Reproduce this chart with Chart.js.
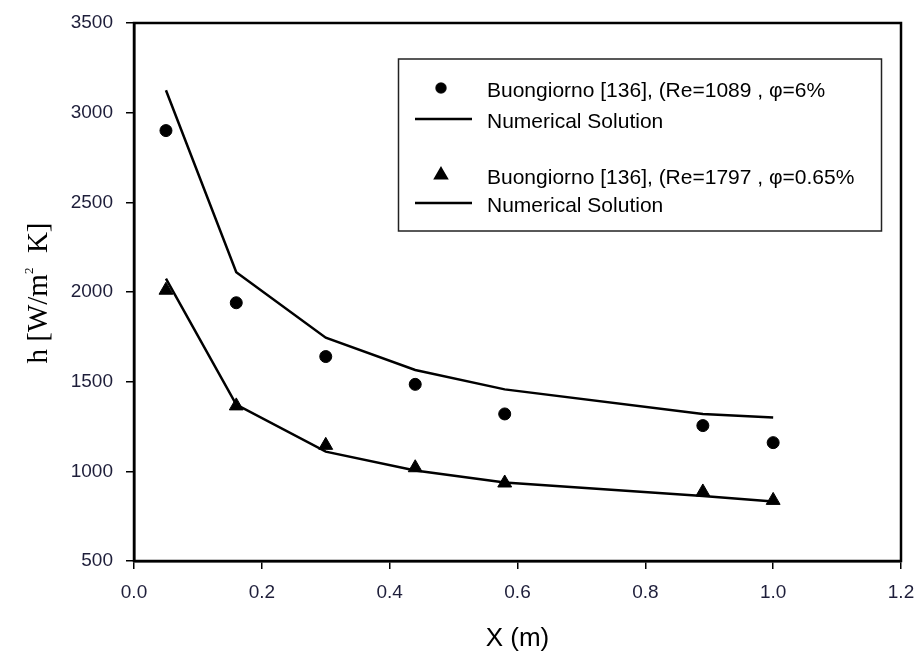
<!DOCTYPE html>
<html lang="en">

<head>
    <meta charset="UTF-8">
    <title>Heat transfer coefficient along X</title>
    <script src="https://cdn.jsdelivr.net/npm/chart.js"></script>
    <style>
        body {
            margin: 0;
            padding: 0;
            background-color: #ffffff;
        }

        #chart-container {
            width: 918px;
            height: 658px;
        }
    </style>
</head>

<body>
    <div id="chart-container">
        <canvas id="hChart"></canvas>
    </div>

    <script>
        // axial positions (m)
        const xPositions = [0.05, 0.16, 0.30, 0.44, 0.58, 0.89, 1.00];

        // Buongiorno [136], Re=1089, phi=6%
        const expRe1089 = [2900, 1940, 1640, 1485, 1320, 1255, 1160];
        const numRe1089 = [3125, 2110, 1745, 1565, 1457, 1320, 1300];

        // Buongiorno [136], Re=1797, phi=0.65%
        const expRe1797 = [2010, 1365, 1145, 1020, 935, 885, 838];
        const numRe1797 = [2075, 1372, 1110, 1005, 938, 862, 832];

        const xTicks = [0, 0.2, 0.4, 0.6, 0.8, 1.0, 1.2];
        const yTicks = [500, 1000, 1500, 2000, 2500, 3000, 3500];

        const legendLabels = [
            'Buongiorno [136], (Re=1089 , φ=6%',
            'Numerical Solution',
            'Buongiorno [136], (Re=1797 , φ=0.65%',
            'Numerical Solution'
        ];

        const toPoints = (ys) => xPositions.map((x, i) => ({ x: x, y: ys[i] }));

        const tickColor = '#1e1e3a';

        // box around the plot area (top and right edges)
        const framePlugin = {
            id: 'frame',
            afterDraw(chart) {
                const { ctx, chartArea: a } = chart;
                ctx.save();
                ctx.strokeStyle = '#000';
                ctx.lineWidth = 2.5;
                ctx.strokeRect(a.left, a.top, a.right - a.left, a.bottom - a.top);
                ctx.restore();
            }
        };

        // y axis title with superscript
        const yTitlePlugin = {
            id: 'yTitle',
            afterDraw(chart) {
                const { ctx, chartArea: a } = chart;
                const cy = (a.top + a.bottom) / 2;
                const big = '29px "Liberation Serif", serif';
                const small = '13px "Liberation Serif", serif';
                const p1 = 'h [W/m';
                const p3 = '  K]';
                ctx.save();
                ctx.translate(47, cy + 1);
                ctx.rotate(-Math.PI / 2);
                ctx.fillStyle = '#000';
                ctx.textBaseline = 'alphabetic';
                ctx.font = big;
                const w1 = ctx.measureText(p1).width;
                const w3 = ctx.measureText(p3).width;
                ctx.font = small;
                const w2 = ctx.measureText('2').width;
                let x = -(w1 + w2 + w3) / 2;
                ctx.font = big;
                ctx.fillText(p1, x, 0);
                x += w1;
                ctx.font = small;
                ctx.fillText('2', x, -14);
                x += w2;
                ctx.font = big;
                ctx.fillText(p3, x, 0);
                ctx.restore();
            }
        };

        // boxed legend drawn inside the plot
        const boxLegendPlugin = {
            id: 'boxLegend',
            afterDraw(chart) {
                const ctx = chart.ctx;
                const rows = [88, 119, 175, 203];
                ctx.save();
                ctx.strokeStyle = '#222';
                ctx.lineWidth = 1.5;
                ctx.strokeRect(398.5, 59, 483, 172);

                ctx.font = '21px "Liberation Sans", Arial, sans-serif';
                ctx.textBaseline = 'middle';
                ctx.fillStyle = '#000';

                chart.data.datasets.forEach((ds, i) => {
                    const y = rows[i];
                    if (ds.showLine) {
                        ctx.strokeStyle = '#000';
                        ctx.lineWidth = 2.5;
                        ctx.beginPath();
                        ctx.moveTo(415, y);
                        ctx.lineTo(472, y);
                        ctx.stroke();
                    } else {
                        Chart.helpers.drawPoint(ctx, {
                            pointStyle: ds.pointStyle,
                            radius: ds.pointStyle === 'triangle' ? 6.5 : 5,
                            borderWidth: 1
                        }, 441, y);
                        ctx.fill();
                    }
                    ctx.fillText(legendLabels[i], 487, y + 3);
                });
                ctx.restore();
            }
        };

        const ctx = document.getElementById('hChart').getContext('2d');

        const chart = new Chart(ctx, {
            type: 'scatter',
            data: {
                datasets: [
                    {
                        label: legendLabels[0],
                        data: toPoints(expRe1089),
                        pointStyle: 'circle',
                        pointRadius: 6,
                        backgroundColor: '#000',
                        borderColor: '#000',
                        showLine: false
                    },
                    {
                        label: legendLabels[1],
                        data: toPoints(numRe1089),
                        showLine: true,
                        pointRadius: 0,
                        borderColor: '#000',
                        borderWidth: 2.5,
                        tension: 0
                    },
                    {
                        label: legendLabels[2],
                        data: toPoints(expRe1797),
                        pointStyle: 'triangle',
                        pointRadius: 8,
                        backgroundColor: '#000',
                        borderColor: '#000',
                        showLine: false
                    },
                    {
                        label: legendLabels[3],
                        data: toPoints(numRe1797),
                        showLine: true,
                        pointRadius: 0,
                        borderColor: '#000',
                        borderWidth: 2.5,
                        tension: 0
                    }
                ]
            },
            options: {
                responsive: true,
                maintainAspectRatio: false,
                animation: false,
                layout: {
                    padding: { top: 23, right: 17, left: 0, bottom: 0 }
                },
                scales: {
                    x: {
                        type: 'linear',
                        min: 0,
                        max: 1.2,
                        afterFit: (s) => {
                            s.height = 97;
                            s.paddingLeft = 0;
                            s.paddingRight = 0;
                        },
                        afterBuildTicks: (s) => { s.ticks = xTicks.map(v => ({ value: v })); },
                        border: { display: true, color: '#000', width: 2.5 },
                        grid: {
                            drawOnChartArea: false,
                            drawTicks: true,
                            tickLength: 8,
                            color: '#000',
                            lineWidth: 1.5
                        },
                        ticks: {
                            padding: 12,
                            color: tickColor,
                            font: { family: '"Liberation Sans", Arial, sans-serif', size: 19 },
                            callback: (v) => Number(v).toFixed(1)
                        },
                        title: {
                            display: true,
                            text: 'X (m)',
                            color: '#000',
                            padding: { top: 10 },
                            font: { family: '"Liberation Sans", Arial, sans-serif', size: 26 }
                        }
                    },
                    y: {
                        type: 'linear',
                        min: 500,
                        max: 3500,
                        afterFit: (s) => {
                            s.width = 134;
                            s.paddingTop = 0;
                            s.paddingBottom = 0;
                        },
                        afterBuildTicks: (s) => { s.ticks = yTicks.map(v => ({ value: v })); },
                        border: { display: true, color: '#000', width: 2.5 },
                        grid: {
                            drawOnChartArea: false,
                            drawTicks: true,
                            tickLength: 8,
                            color: '#000',
                            lineWidth: 1.5
                        },
                        ticks: {
                            padding: 13,
                            color: tickColor,
                            font: { family: '"Liberation Sans", Arial, sans-serif', size: 19 },
                            callback: (v) => String(v)
                        }
                    }
                },
                plugins: {
                    legend: { display: false },
                    tooltip: { enabled: false }
                }
            },
            plugins: [framePlugin, yTitlePlugin, boxLegendPlugin]
        });
    </script>
</body>

</html>
